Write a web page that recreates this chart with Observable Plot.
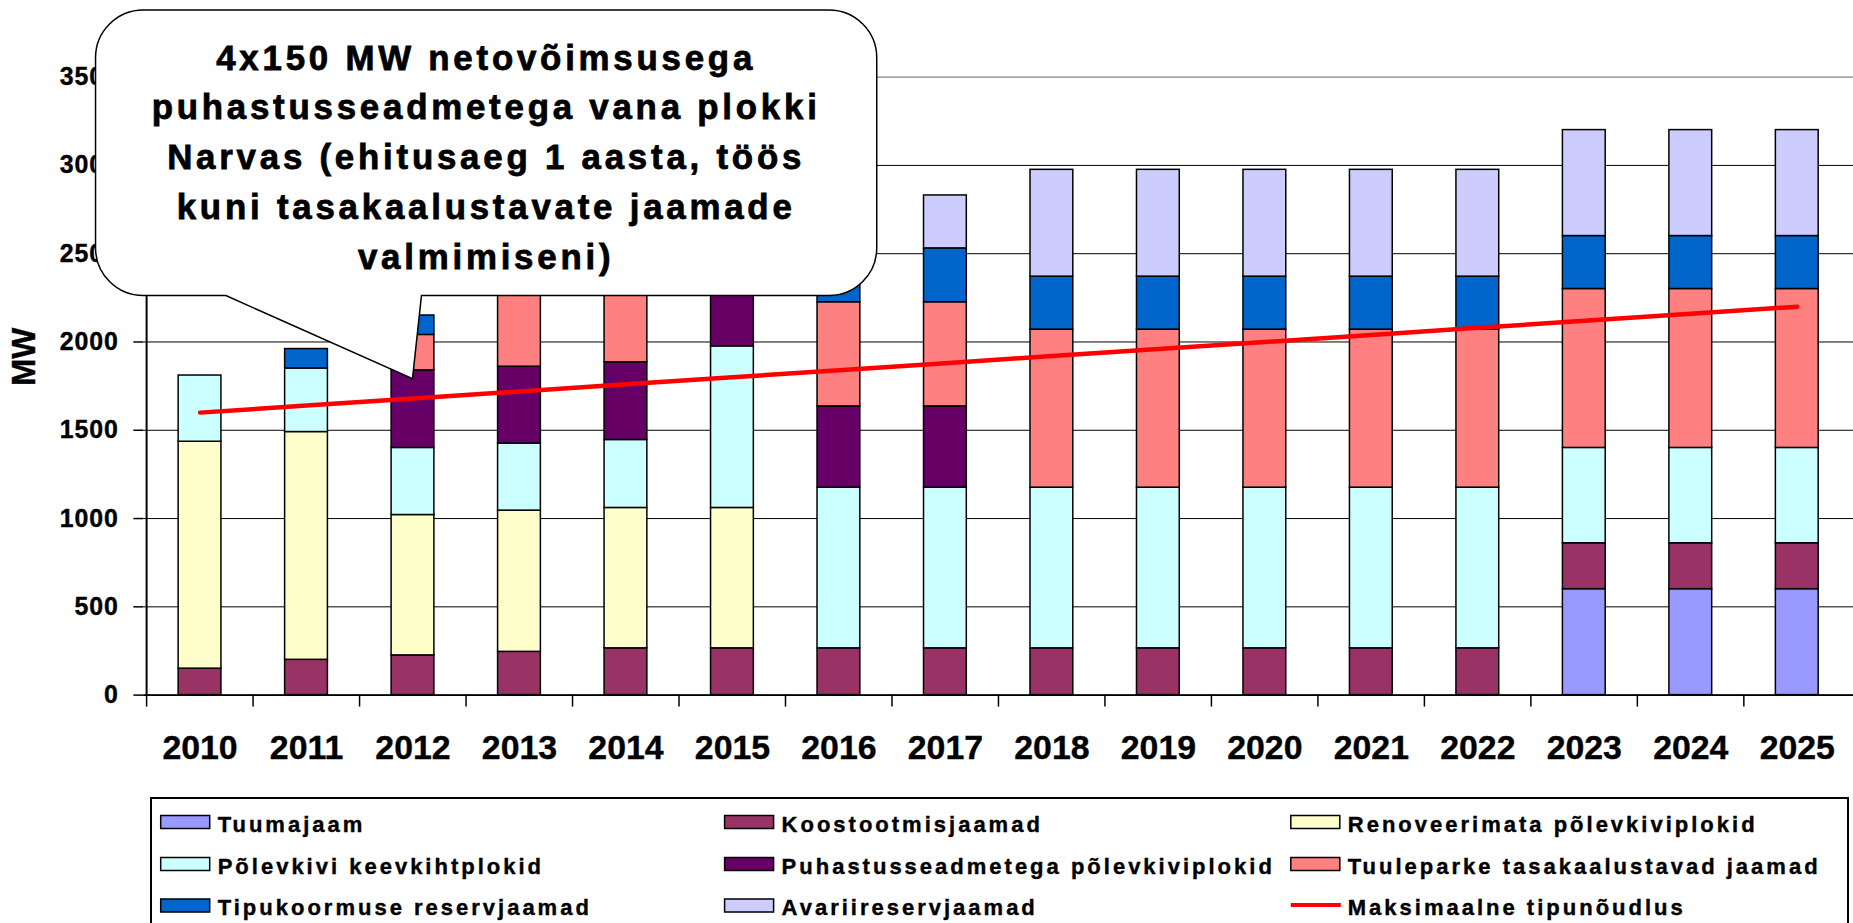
<!DOCTYPE html>
<html><head><meta charset="utf-8">
<script src="https://cdn.jsdelivr.net/npm/d3@7"></script>
<script src="https://cdn.jsdelivr.net/npm/@observablehq/plot@0.6"></script>
<style>
html,body{margin:0;padding:0;background:#fff;overflow:hidden;width:1853px;height:923px;}
#wrap{position:relative;width:1853px;height:923px;overflow:hidden;}
#chart{position:absolute;left:0;top:0;}
#legend{position:absolute;left:149px;top:796px;}
</style>
</head>
<body>
<div id="wrap"><div id="chart"></div><div id="legend"></div></div>
<script>
const years = [2010,2011,2012,2013,2014,2015,2016,2017,2018,2019,2020,2021,2022,2023,2024,2025];
const seriesNames = ["Tuumajaam","Koostootmisjaamad","Renoveerimata põlevkiviplokid","Põlevkivi keevkihtplokid","Puhastusseadmetega põlevkiviplokid","Tuuleparke tasakaalustavad jaamad","Tipukoormuse reservjaamad","Avariireservjaamad"];
const seriesColors = ["#9999FF","#993366","#FFFFCC","#CCFFFF","#660066","#FF8080","#0066CC","#CCCCFF"];
const tuumajaam         = [0,0,0,0,0,0,0,0,0,0,0,0,0,600,600,600];
const koostootmisjaamad = [150,200,225,245,265,265,265,265,265,265,265,265,265,260,260,260];
const renoveerimata     = [1285,1290,795,800,795,795,0,0,0,0,0,0,0,0,0,0];
const keevkiht          = [375,360,380,380,385,915,910,910,910,910,910,910,910,540,540,540];
const puhastus          = [0,0,440,435,440,460,460,460,0,0,0,0,0,0,0,0];
const tuuleparke        = [0,0,200,450,430,0,590,590,895,895,895,895,895,900,900,900];
const tipukoormus       = [0,110,110,150,150,150,310,305,300,300,300,300,300,300,300,300];
const avariireserv      = [0,0,0,0,0,0,0,300,605,605,605,605,605,600,600,600];
const demandName = "Maksimaalne tipunõudlus";
const demand = [1600,1640,1680,1720,1760,1800,1840,1880,1920,1960,2000,2040,2080,2120,2160,2200];
const yTicks = [0,500,1000,1500,2000,2500,3000,3500];
const calloutLines = ["4x150 MW netovõimsusega","puhastusseadmetega vana plokki","Narvas (ehitusaeg 1 aasta, töös","kuni tasakaalustavate jaamade","valmimiseni)"];
const calloutYear = 2012, calloutValue = 1790;

const seriesValues = [tuumajaam,koostootmisjaamad,renoveerimata,keevkiht,puhastus,tuuleparke,tipukoormus,avariireserv];
const rows = [];
seriesValues.forEach((vals, s) => vals.forEach((v, i) => { if (v > 0) rows.push({year: years[i], series: seriesNames[s], value: v}); }));
const demandRows = years.map((y, i) => ({year: y, value: demand[i]}));

const FONT = '"Liberation Sans", Arial, Helvetica, sans-serif';
const W = 1862, H = 795, ML = 144, MR = 0, MT = 77, MB = 97;
const step = (W - ML - MR) / years.length;

const chart = Plot.plot({
  width: W, height: H, marginLeft: ML, marginRight: MR, marginTop: MT, marginBottom: MB,
  style: {fontFamily: FONT, fontWeight: "bold", background: "white", color: "black", overflow: "visible"},
  x: {type: "band", domain: years, paddingInner: 0.6, paddingOuter: 0.3, label: null},
  y: {domain: [0, 3500], label: null},
  color: {domain: seriesNames, range: seriesColors},
  marks: [
    Plot.gridY(yTicks.slice(0, -1), {stroke: "black", strokeOpacity: 1, strokeWidth: 1}),
    Plot.gridY(yTicks.slice(-1), {stroke: "#808080", strokeOpacity: 1, strokeWidth: 1.5}),
    Plot.barY(rows, {x: "year", y: "value", fill: "series", stroke: "black", strokeWidth: 1.5}),
    Plot.line(demandRows, {x: "year", y: "value", stroke: "#FF0000", strokeWidth: 4.5}),
    Plot.ruleY([0], {stroke: "black", strokeWidth: 2}),
    Plot.ruleX([years[0]], {dx: -step / 2, y1: 0, y2: 3500, stroke: "black", strokeWidth: 2}),
    Plot.axisY(yTicks, {tickSize: 10, tickPadding: 15, fontSize: 25, fontWeight: "bold", label: null, strokeWidth: 1.5, tickFormat: d => String(d)}),
    Plot.axisX({tickSize: 0, tickPadding: 40, fontSize: 34, fontWeight: "bold", label: null, tickFormat: d => String(d)}),
    Plot.axisX({tickSize: 12, tickFormat: () => "", dx: -step / 2, label: null, strokeWidth: 1.5}),
    Plot.text(["MW"], {frameAnchor: "left", dx: -120, rotate: -90, fontSize: 33, fontWeight: "bold"})
  ]
});
document.getElementById("chart").appendChild(chart);

d3.select(chart).selectAll('g[aria-label="y-axis tick label"] text').style("letter-spacing", "1px");
d3.select(chart).selectAll('g[aria-label="y-axis tick label"], g[aria-label="x-axis tick label"], g[aria-label="text"]')
  .attr("stroke", "black").attr("stroke-width", 0.4);

// Callout annotation pointing to the 2012 bar
const sx = chart.scale("x"), sy = chart.scale("y");
const bw = sx.bandwidth != null ? sx.bandwidth : step * 0.4;
const tipX = sx.apply(calloutYear) + bw / 2, tipY = sy.apply(calloutValue);
const bx0 = 96, bx1 = 881, by0 = 10, by1 = 297, r = 48;
const tl = 227, tr = tipX + 9;
const path = `M${bx0 + r},${by0} H${bx1 - r} A${r},${r} 0 0 1 ${bx1},${by0 + r} V${by1 - r} A${r},${r} 0 0 1 ${bx1 - r},${by1} H${tr} L${tipX},${tipY} L${tl},${by1} H${bx0 + r} A${r},${r} 0 0 1 ${bx0},${by1 - r} V${by0 + r} A${r},${r} 0 0 1 ${bx0 + r},${by0} Z`;
const cg = d3.select(chart).append("g").attr("aria-label", "callout");
cg.append("path").attr("d", path).attr("fill", "white").attr("stroke", "black").attr("stroke-width", 1.5);
const cx = (bx0 + bx1) / 2;
calloutLines.forEach((t, i) => {
  cg.append("text").attr("x", cx).attr("y", 70 + i * 50).attr("text-anchor", "middle")
    .attr("font-family", FONT).attr("font-weight", "bold").attr("font-size", 35)
    .attr("stroke", "black").attr("stroke-width", 0.8)
    .style("letter-spacing", "3.8px").attr("fill", "black").text(t);
});

// Legend below the chart
const legendItems = seriesNames.map((n, i) => ({name: n, color: seriesColors[i], type: "bar"}));
legendItems.push({name: demandName, color: "#FF0000", type: "line"});
const colX = [11.7, 575.6, 1141.8];
const rowY = [19.5, 61.5, 103];
const lsvg = d3.select("#legend").append("svg").attr("width", 1704).attr("height", 127)
  .style("font-family", FONT).style("font-weight", "bold");
lsvg.append("rect").attr("x", 2).attr("y", 2).attr("width", 1697).attr("height", 200)
  .attr("fill", "white").attr("stroke", "black").attr("stroke-width", 2);
legendItems.forEach((it, i) => {
  const c = i % 3, rr = Math.floor(i / 3);
  const x = colX[c], y = rowY[rr];
  if (it.type === "bar") {
    lsvg.append("rect").attr("x", x).attr("y", y).attr("width", 49).attr("height", 13)
      .attr("fill", it.color).attr("stroke", "black").attr("stroke-width", 1.5);
  } else {
    lsvg.append("line").attr("x1", x).attr("x2", x + 50).attr("y1", y + 6).attr("y2", y + 6)
      .attr("stroke", it.color).attr("stroke-width", 4);
  }
  lsvg.append("text").attr("x", x + 57).attr("y", y + 16.2).attr("font-size", 22)
    .attr("stroke", "black").attr("stroke-width", 0.4)
    .style("letter-spacing", "3px").attr("fill", "black").text(it.name);
});
</script>
</body></html>
